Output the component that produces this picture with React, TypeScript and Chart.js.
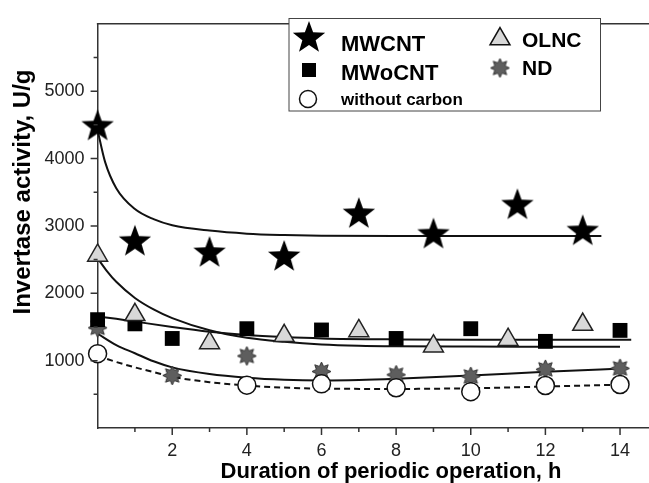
import React, { useEffect, useRef } from "react";
import { Chart, registerables } from "chart.js";

Chart.register(...registerables);

// ---- measured data ----
const mwcntX = [0, 1, 3, 5, 7, 9, 11.25, 13];
const mwcntY = [4475, 2764, 2597, 2539, 3175, 2871, 3305, 2919];
const mwocntX = [0, 1, 2, 4, 6, 8, 10, 12, 14];
const mwocntY = [1608, 1546, 1329, 1474, 1455, 1329, 1474, 1286, 1449];
const olncX = [0, 1, 3, 5, 7, 9, 11, 13];
const olncY = [2562, 1681, 1262, 1368, 1440, 1214, 1311, 1536];
const ndX = [0, 2, 4, 6, 8, 10, 12, 14];
const ndY = [1488, 780, 1069, 838, 790, 766, 871, 886];
const noCarbonX = [0, 4, 6, 8, 10, 12, 14];
const noCarbonY = [1103, 636, 655, 597, 539, 631, 646];

// fitted curves
const mwcntFitX = [0, 0.2, 0.5, 1, 1.5, 2, 3, 4, 5, 6, 8, 10, 13.5];
const mwcntFitY = [4420, 3950, 3560, 3250, 3100, 3010, 2930, 2885, 2865, 2855, 2850, 2850, 2850];
const mwocntFitX = [0, 0.5, 1, 2, 3, 4, 5, 6, 8, 10, 12, 14.3];
const mwocntFitY = [1655, 1620, 1580, 1500, 1430, 1380, 1350, 1330, 1315, 1310, 1310, 1310];
const olncFitX = [0, 0.25, 0.5, 1, 1.5, 2, 3, 4, 5, 6, 7, 8, 10, 12, 14];
const olncFitY = [2520, 2330, 2170, 1930, 1760, 1630, 1450, 1340, 1280, 1240, 1220, 1212, 1208, 1206, 1205];
const ndFitX = [0, 0.5, 1, 1.5, 2, 3, 4, 5, 6, 7, 8, 10, 12, 14.2];
const ndFitY = [1400, 1230, 1110, 990, 900, 800, 745, 715, 705, 712, 730, 778, 835, 886];
const noCarbonFitX = [0, 0.5, 1, 1.5, 2, 3, 4, 5, 6, 8, 10, 12, 14.1];
const noCarbonFitY = [1070, 980, 900, 830, 760, 680, 630, 600, 585, 580, 590, 615, 645];

// ---- axes ----
const xTickLabels = ["2", "4", "6", "8", "10", "12", "14"];
const xMinorTicks = [1, 3, 5, 7, 9, 11, 13, 15];
const yTickLabels = ["1000", "2000", "3000", "4000", "5000"];
const yMinorTicks = [500, 1500, 2500, 3500, 4500, 5500];
const xTitle = "Duration of periodic operation, h";
const yTitle = "Invertase activity, U/g";
const legendNames = ["MWCNT", "MWoCNT", "without carbon", "OLNC", "ND"];

const FONT = "'Liberation Sans', Arial, Helvetica, sans-serif";

function makeStar(points: number, outerR: number, innerR: number, fill: string, stroke: string, lw: number) {
  const size = Math.ceil(2 * outerR + lw * 2 + 4);
  const c = document.createElement("canvas");
  c.width = size;
  c.height = size;
  const ctx = c.getContext("2d")!;
  ctx.translate(size / 2, size / 2);
  ctx.beginPath();
  for (let i = 0; i < points * 2; i++) {
    const r = i % 2 === 0 ? outerR : innerR;
    const a = -Math.PI / 2 + (i * Math.PI) / points;
    const px = r * Math.cos(a);
    const py = r * Math.sin(a);
    if (i === 0) ctx.moveTo(px, py);
    else ctx.lineTo(px, py);
  }
  ctx.closePath();
  ctx.fillStyle = fill;
  ctx.fill();
  if (lw > 0) {
    ctx.strokeStyle = stroke;
    ctx.lineWidth = lw;
    ctx.lineJoin = "miter";
    ctx.stroke();
  }
  return c;
}

const zip = (xs: number[], ys: number[]) => xs.map((x, i) => ({ x, y: ys[i] }));

export default function App() {
  const ref = useRef<HTMLCanvasElement>(null);

  useEffect(() => {
    document.body.style.margin = "0";
    document.body.style.overflow = "hidden";
    const bigStar = makeStar(5, 17, 7, "#000", "#000", 0);
    const burst = makeStar(8, 9.5, 5.5, "#5e5e5e", "#333", 1);

    const lineDs = (xs: number[], ys: number[], dash: number[] = []) => ({
      type: "scatter" as const,
      data: zip(xs, ys),
      showLine: true,
      pointRadius: 0,
      borderColor: "#111",
      borderWidth: 2,
      borderDash: dash,
      cubicInterpolationMode: "monotone" as const,
      tension: 0.4,
      order: 2,
      clip: false as const,
    });

    const topFrame = {
      id: "extras",
      afterDraw(chart: any) {
        const { ctx, chartArea, scales } = chart;
        const xs = scales.x;
        const ys = scales.y;
        ctx.save();
        ctx.strokeStyle = "#333";
        ctx.lineWidth = 1.5;
        ctx.beginPath();
        ctx.moveTo(chartArea.left - 0.75, chartArea.top);
        ctx.lineTo(chart.width, chartArea.top);
        // x ticks
        xTickLabels.forEach((l) => {
          const p = xs.getPixelForValue(Number(l));
          ctx.moveTo(p, chartArea.bottom);
          ctx.lineTo(p, chartArea.bottom + 7);
        });
        xMinorTicks.forEach((v) => {
          const p = xs.getPixelForValue(v);
          ctx.moveTo(p, chartArea.bottom);
          ctx.lineTo(p, chartArea.bottom + 4);
        });
        yTickLabels.forEach((l) => {
          const p = ys.getPixelForValue(Number(l));
          ctx.moveTo(chartArea.left, p);
          ctx.lineTo(chartArea.left - 7, p);
        });
        yMinorTicks.forEach((v) => {
          const p = ys.getPixelForValue(v);
          ctx.moveTo(chartArea.left, p);
          ctx.lineTo(chartArea.left - 4, p);
        });
        ctx.stroke();

        // axis titles
        ctx.fillStyle = "#000";
        ctx.font = `bold 22px ${FONT}`;
        ctx.textAlign = "center";
        ctx.textBaseline = "alphabetic";
        ctx.fillText(xTitle, 391, 478);
        ctx.save();
        ctx.translate(30, 192);
        ctx.rotate(-Math.PI / 2);
        ctx.font = `bold 24px ${FONT}`;
        ctx.fillText(yTitle, 0, 0);
        ctx.restore();

        // legend
        const L = 289, T = 18.5, R = 600.5, B = 111;
        ctx.fillStyle = "#fff";
        ctx.fillRect(L, T, R - L, B - T);
        ctx.lineWidth = 1;
        ctx.strokeStyle = "#444";
        ctx.strokeRect(L, T, R - L, B - T);
        ctx.drawImage(bigStar, 309 - bigStar.width / 2, 38 - bigStar.height / 2);
        ctx.fillStyle = "#000";
        ctx.fillRect(302, 63, 14, 14);
        ctx.beginPath();
        ctx.arc(308, 99, 8.5, 0, Math.PI * 2);
        ctx.fillStyle = "#fff";
        ctx.fill();
        ctx.lineWidth = 1.5;
        ctx.strokeStyle = "#111";
        ctx.stroke();
        // triangle
        const tr = 11.5, tcx = 500, tcy = 39;
        ctx.beginPath();
        ctx.moveTo(tcx, tcy - tr);
        ctx.lineTo(tcx + tr * Math.sin((2 * Math.PI) / 3), tcy - tr * Math.cos((2 * Math.PI) / 3));
        ctx.lineTo(tcx - tr * Math.sin((2 * Math.PI) / 3), tcy - tr * Math.cos((2 * Math.PI) / 3));
        ctx.closePath();
        ctx.fillStyle = "#d8d8d8";
        ctx.fill();
        ctx.stroke();
        ctx.drawImage(burst, 500 - burst.width / 2, 68 - burst.height / 2);

        ctx.fillStyle = "#000";
        ctx.textAlign = "left";
        ctx.font = `bold 22px ${FONT}`;
        ctx.fillText(legendNames[0], 341, 51);
        ctx.fillText(legendNames[1], 341, 80);
        ctx.font = `bold 21px ${FONT}`;
        ctx.fillText(legendNames[3], 522, 47);
        ctx.fillText(legendNames[4], 522, 75);
        ctx.font = `bold 17px ${FONT}`;
        ctx.fillText(legendNames[2], 341, 105);
        ctx.restore();
      },
    };

    const chart = new Chart(ref.current!, {
      type: "scatter",
      data: {
        datasets: [
          {
            data: zip(mwcntX, mwcntY),
            pointStyle: bigStar as any,
            pointRadius: 17,
            order: 0,
            clip: false,
          },
          {
            data: zip(olncX, olncY),
            pointStyle: "triangle",
            pointRadius: 11.5,
            backgroundColor: "#d8d8d8",
            borderColor: "#222",
            borderWidth: 1.5,
            order: 0,
            clip: false,
          },
          {
            data: zip(mwocntX, mwocntY),
            pointStyle: "rect",
            pointRadius: 10.5,
            backgroundColor: "#000",
            borderColor: "#000",
            borderWidth: 0,
            order: 0,
            clip: false,
          },
          {
            data: zip(noCarbonX, noCarbonY),
            pointStyle: "circle",
            pointRadius: 9,
            backgroundColor: "#fff",
            borderColor: "#111",
            borderWidth: 1.5,
            order: 0,
            clip: false,
          },
          {
            data: zip(ndX, ndY),
            pointStyle: burst as any,
            pointRadius: 10,
            order: 0,
            clip: false,
          },
          lineDs(mwcntFitX, mwcntFitY),
          lineDs(mwocntFitX, mwocntFitY),
          lineDs(olncFitX, olncFitY),
          lineDs(ndFitX, ndFitY),
          lineDs(noCarbonFitX, noCarbonFitY, [6, 4]),
        ] as any,
      },
      options: {
        animation: false,
        responsive: false,
        events: [],
        layout: { padding: { top: 12.7, left: 0, right: 24, bottom: 0 } },
        plugins: { legend: { display: false }, tooltip: { enabled: false } },
        scales: {
          x: {
            type: "linear",
            min: 0,
            max: 15.5,
            afterFit: (s: any) => {
              s.height = 55;
            },
            afterBuildTicks: (s: any) => {
              s.ticks = xTickLabels.map((l) => ({ value: Number(l) }));
            },
            ticks: {
              font: { family: FONT, size: 18 },
              color: "#222",
              padding: 12,
              maxRotation: 0,
              autoSkip: false,
              callback: (v: any) => {
                const s = String(v);
                return xTickLabels.includes(s) ? s : "";
              },
            },
            grid: { display: false, drawTicks: false },
            border: { display: true, color: "#333", width: 1.5 },
          },
          y: {
            type: "linear",
            min: 0,
            max: 6000,
            afterFit: (s: any) => {
              s.width = 97.6;
            },
            afterBuildTicks: (s: any) => {
              s.ticks = yTickLabels.map((l) => ({ value: Number(l) }));
            },
            ticks: {
              font: { family: FONT, size: 18 },
              color: "#222",
              padding: 13,
              autoSkip: false,
              callback: (v: any) => {
                const s = String(v);
                return yTickLabels.includes(s) ? s : "";
              },
            },
            grid: { display: false, drawTicks: false },
            border: { display: true, color: "#333", width: 1.5 },
          },
        },
      },
      plugins: [topFrame],
    });
    return () => chart.destroy();
  }, []);

  return (
    <div style={{ position: "absolute", left: 0, top: 0, width: 649, height: 483, overflow: "hidden", background: "#fff" }}>
      <canvas ref={ref} width={700} height={483} style={{ display: "block", width: 700, height: 483 }} />
    </div>
  );
}
